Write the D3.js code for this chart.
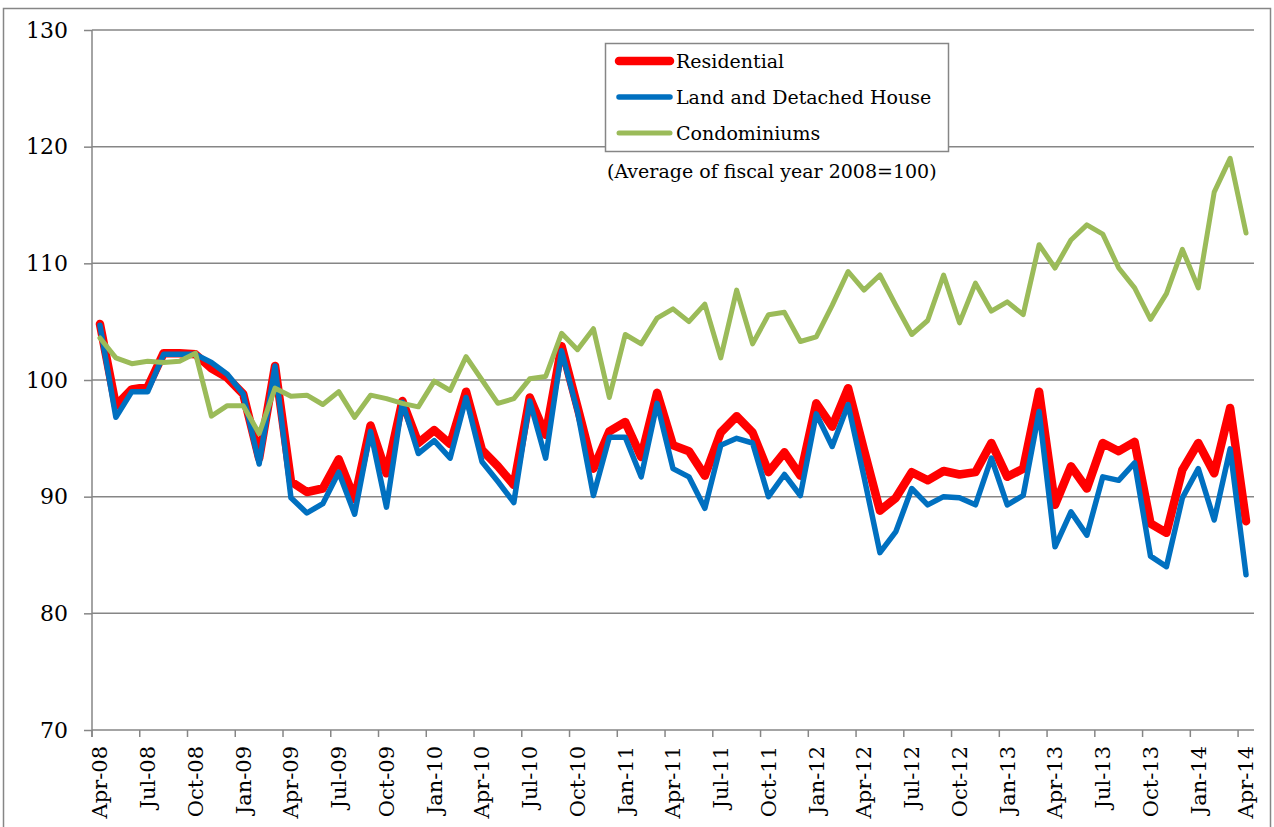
<!DOCTYPE html>
<html>
<head>
<meta charset="utf-8">
<script src="https://cdn.jsdelivr.net/npm/d3@7"></script>
<style>
  body { margin: 0; background: #fff; }
  svg { font-family: "DejaVu Serif", serif; }
</style>
</head>
<body>
<svg id="chart" width="1274" height="827"></svg>
<script>
const WIDTH = 1274;
const HEIGHT = 827;

// Apr-08 .. Apr-14, one value per month
const residential = [
    104.8, 97.8, 99.2, 99.4, 102.3, 102.3, 102.2, 101.0, 100.2, 98.8, 93.3, 101.2,
    91.3, 90.4, 90.7, 93.2, 89.8, 96.1, 92.0, 98.2, 94.6, 95.7, 94.5, 99.0,
    94.0, 92.6, 91.0, 98.5, 95.3, 102.9, 97.7, 92.4, 95.6, 96.4, 93.4, 98.9,
    94.4, 93.9, 91.8, 95.5, 96.9, 95.5, 92.1, 93.8, 91.8, 98.0, 96.0, 99.3,
    94.0, 88.8, 89.9, 92.1, 91.4, 92.2, 91.9, 92.1, 94.6, 91.7, 92.4, 99.0,
    89.3, 92.6, 90.7, 94.6, 93.9, 94.7, 87.7, 86.9, 92.3, 94.6, 92.0, 97.6,
    87.9
];
const landHouse = [
    104.7, 96.8, 99.0, 99.0, 102.2, 102.2, 102.2, 101.5, 100.5, 98.8, 92.8, 101.2,
    89.9, 88.6, 89.4, 92.1, 88.5, 95.6, 89.1, 98.1, 93.7, 94.8, 93.3, 98.5,
    93.0, 91.3, 89.5, 98.2, 93.3, 102.5, 97.3, 90.1, 95.1, 95.1, 91.7, 98.0,
    92.4, 91.7, 89.0, 94.4, 95.0, 94.6, 90.0, 91.9, 90.1, 97.1, 94.3, 97.9,
    91.7, 85.2, 87.0, 90.7, 89.3, 90.0, 89.9, 89.3, 93.3, 89.3, 90.1, 97.3,
    85.7, 88.7, 86.7, 91.7, 91.4, 92.9, 84.9, 84.0, 89.9, 92.4, 88.0, 94.1,
    83.3
];
const condominiums = [
    103.6, 101.9, 101.4, 101.6, 101.5, 101.6, 102.3, 96.9, 97.8, 97.8, 95.4, 99.3,
    98.6, 98.7, 97.9, 99.0, 96.8, 98.7, 98.4, 98.0, 97.7, 99.9, 99.1, 102.0,
    100.0, 98.0, 98.4, 100.1, 100.3, 104.0, 102.6, 104.4, 98.5, 103.9, 103.1, 105.3,
    106.1, 105.0, 106.5, 101.9, 107.7, 103.1, 105.6, 105.8, 103.3, 103.7, 106.4, 109.3,
    107.7, 109.0, 106.4, 103.9, 105.1, 109.0, 104.9, 108.3, 105.9, 106.7, 105.6, 111.6,
    109.6, 112.0, 113.3, 112.5, 109.6, 107.9, 105.2, 107.4, 111.2, 107.9, 116.1, 119.0,
    112.6
];
const tickLabels = [
    'Apr-08', 'Jul-08', 'Oct-08', 'Jan-09', 'Apr-09', 'Jul-09', 'Oct-09', 'Jan-10',
    'Apr-10', 'Jul-10', 'Oct-10', 'Jan-11', 'Apr-11', 'Jul-11', 'Oct-11', 'Jan-12',
    'Apr-12', 'Jul-12', 'Oct-12', 'Jan-13', 'Apr-13', 'Jul-13', 'Oct-13', 'Jan-14',
    'Apr-14'
];
const yTicks = [70, 80, 90, 100, 110, 120, 130];
const seriesNames = ['Residential', 'Land and Detached House', 'Condominiums'];
const note = '(Average of fiscal year 2008=100)';

const GRAY = '#868686';
const series = [
    { name: seriesNames[0], values: residential, color: '#ff0000', width: 8.5 },
    { name: seriesNames[1], values: landHouse, color: '#0070c0', width: 5.5 },
    { name: seriesNames[2], values: condominiums, color: '#9bbb59', width: 5 }
];

const plot = { left: 92, right: 1254, top: 30, bottom: 730 };
const svg = d3.select('#chart');

// outer frame
svg.append('rect')
    .attr('x', 3.5).attr('y', 8.5)
    .attr('width', WIDTH - 7).attr('height', HEIGHT)
    .attr('fill', 'none')
    .attr('stroke', GRAY)
    .attr('stroke-width', 1.5);

const x = d3.scaleBand()
    .domain(d3.range(residential.length))
    .range([plot.left, plot.right])
    .padding(0);
const y = d3.scaleLinear()
    .domain([70, 130])
    .range([plot.bottom, plot.top]);
const cx = i => x(i) + x.bandwidth() / 2;

// gridlines
svg.append('g')
    .selectAll('line')
    .data(yTicks.filter(v => v > 70))
    .join('line')
    .attr('x1', plot.left).attr('x2', plot.right)
    .attr('y1', d => y(d)).attr('y2', d => y(d))
    .attr('stroke', GRAY)
    .attr('stroke-width', 1.5);

// y axis
const yAxis = svg.append('g')
    .attr('transform', `translate(${plot.left},0)`)
    .call(d3.axisLeft(y).tickValues(yTicks).tickSize(8).tickPadding(16).tickFormat(d3.format('d')));
yAxis.select('.domain').attr('stroke', GRAY).attr('stroke-width', 1.5)
    .attr('d', `M0,${plot.top}V${plot.bottom + 7}`);
yAxis.selectAll('.tick line').attr('stroke', GRAY).attr('stroke-width', 1.5);
yAxis.selectAll('.tick text')
    .attr('fill', '#000')
    .style('font-size', '22px')
    .style('font-family', '"DejaVu Serif", serif');

// x axis
const xAxis = svg.append('g');
xAxis.append('line')
    .attr('x1', plot.left).attr('x2', plot.right)
    .attr('y1', plot.bottom).attr('y2', plot.bottom)
    .attr('stroke', GRAY).attr('stroke-width', 1.5);
const tickIdx = tickLabels.map((d, k) => k * 3);
xAxis.selectAll('.xtick')
    .data(tickIdx)
    .join('line')
    .attr('class', 'xtick')
    .attr('x1', d => x(d)).attr('x2', d => x(d))
    .attr('y1', plot.bottom).attr('y2', plot.bottom + 7)
    .attr('stroke', GRAY).attr('stroke-width', 1.5);
xAxis.selectAll('.xlabel')
    .data(tickIdx)
    .join('text')
    .attr('class', 'xlabel')
    .attr('transform', d => `translate(${cx(d)},${plot.bottom + 16}) rotate(-90)`)
    .attr('text-anchor', 'end')
    .attr('dy', '0.35em')
    .style('font-size', '21px')
    .text((d, k) => tickLabels[k]);

// lines
const line = d3.line()
    .x((d, i) => cx(i))
    .y(d => y(d));
svg.append('g')
    .selectAll('path')
    .data(series)
    .join('path')
    .attr('d', d => line(d.values))
    .attr('fill', 'none')
    .attr('stroke', d => d.color)
    .attr('stroke-width', d => d.width)
    .attr('stroke-linejoin', 'round')
    .attr('stroke-linecap', 'round');

// legend
const legend = svg.append('g');
legend.append('rect')
    .attr('x', 605.5).attr('y', 43.5)
    .attr('width', 343).attr('height', 108)
    .attr('fill', '#fff')
    .attr('stroke', GRAY).attr('stroke-width', 1.5);
const rows = legend.selectAll('g.row')
    .data(series)
    .join('g')
    .attr('class', 'row')
    .attr('transform', (d, i) => `translate(0,${61 + i * 36})`);
rows.append('line')
    .attr('x1', 619).attr('x2', 670)
    .attr('stroke', d => d.color)
    .attr('stroke-width', d => d.width)
    .attr('stroke-linecap', 'round');
rows.append('text')
    .attr('x', 676)
    .attr('dy', '0.35em')
    .style('font-size', '19px')
    .text(d => d.name);

svg.append('text')
    .attr('x', 607).attr('y', 178)
    .style('font-size', '19px')
    .text(note);
</script>
</body>
</html>
